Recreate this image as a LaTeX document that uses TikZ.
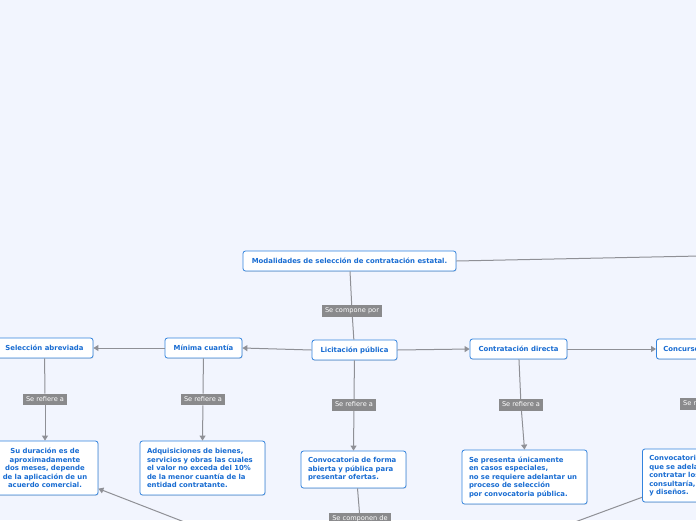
\documentclass[tikz,border=0pt]{standalone}
\usepackage{fontspec}
\setmainfont{DejaVu Sans}
\usetikzlibrary{arrows.meta,shadows}
\definecolor{bgc}{RGB}{242,245,254}
\definecolor{bblue}{RGB}{52,132,222}
\definecolor{tblue}{RGB}{24,108,210}
\definecolor{lgray}{RGB}{138,138,140}
\definecolor{cgray}{RGB}{143,144,150}
\tikzset{
  topic/.style={draw=bblue, line width=0.8pt, rounded corners=2.5pt, fill=white, text=tblue,
    font=\bfseries\fontsize{6.9}{8.5}\selectfont, inner xsep=7pt, inner ysep=4pt, minimum height=20pt,
    drop shadow={shadow xshift=0.6pt, shadow yshift=-0.8pt, fill=black!20, opacity=0.6}},
  multi/.style={topic, align=left},
  lbl/.style={fill=lgray, text=white, font=\fontsize{6.6}{7}\selectfont, inner xsep=3pt, inner ysep=0pt,
    minimum height=11.5pt, text height=5pt, text depth=1.3pt},
  conn/.style={draw=cgray, line width=1pt},
  arr/.style={conn, -{Triangle[width=6pt,length=5pt]}}
}
\begin{document}
\begin{tikzpicture}[x=1pt,y=-1pt]
\fill[bgc] (0,0) rectangle (696,520);
\useasboundingbox (0,0) rectangle (696,520);
\clip (0,0) rectangle (696,520);
% topics
\node[topic, minimum width=213pt] (mod) at (349.5,261) {Modalidades de selección de contratación estatal.};
\node[topic, minimum width=85pt] (lic) at (354.5,350) {Licitación pública};
\node[topic, minimum width=77pt] (min) at (203.5,348) {Mínima cuantía};
\node[topic, minimum width=97pt] (sel) at (44.5,348) {Selección abreviada};
\node[topic, minimum width=97pt] (dir) at (518.5,349) {Contratación directa};
\node[topic, anchor=west] (con) at (656,349) {Concurso de méritos};
% multi-line topics
\node[topic, align=center, text width=92pt, minimum height=54pt] (dur) at (45,468)
  {Su duración es de\\aproximadamente\\dos meses, depende\\de la aplicación de un\\acuerdo comercial.};
\node[multi, text width=111pt, minimum height=54pt] (adq) at (202.5,468)
  {Adquisiciones de bienes,\\servicios y obras las cuales\\el valor no exceda del 10\%\\de la menor cuantía de la\\entidad contratante.};
\node[multi, text width=91pt, minimum height=37pt] (conv) at (353.5,469.5)
  {Convocatoria de forma\\abierta y pública para\\presentar ofertas.};
\node[multi, text width=111pt, minimum height=54pt] (pres) at (524.5,477)
  {Se presenta únicamente\\en casos especiales,\\no se requiere adelantar un\\proceso de selección\\por convocatoria pública.};
\node[multi, anchor=west, text width=104pt, minimum height=53pt] (conc) at (642,475.5)
  {Convocatoria pública\\que se adelanta para\\contratar los servicios de\\consultaría, estudios\\y diseños.};
% labels
\node[lbl] (l1) at (352,311) {Se compone por};
\node[lbl] (l2) at (45,399.5) {Se refiere a};
\node[lbl] (l3) at (203,399.5) {Se refiere a};
\node[lbl] (l4) at (354,405) {Se refiere a};
\node[lbl] (l5) at (521,405) {Se refiere a};
\node[lbl, anchor=west] (l6) at (680,404) {Se refiere a};
\node[lbl] (l7) at (360,519) {Se componen de};
% free ends
\coordinate (c1) at (205,530);
\coordinate (c2) at (556,529);
\coordinate (c3) at (700,256);
\coordinate (c4) at (361,540);
% connectors
\draw[conn] (mod.east) -- (c3);
\draw[conn] (mod) -- (l1);
\draw[conn] (l1) -- (lic);
\draw[arr] (lic.west) -- (min.east);
\draw[arr] (min.west) -- (sel.east);
\draw[arr] (lic.east) -- (dir.west);
\draw[arr] (dir.east) -- (con.west);
\draw[conn] (sel) -- (l2);
\draw[arr] (l2) -- (dur.north);
\draw[conn] (min) -- (l3);
\draw[arr] (l3) -- (adq.north);
\draw[conn] (lic) -- (l4);
\draw[arr] (l4) -- (conv.north);
\draw[conn] (dir) -- (l5);
\draw[arr] (l5) -- (pres.north);
\draw[conn] (con) -- (l6);
\draw[arr] (l6) -- (conc);
\draw[conn] ([xshift=4pt]conv.south) -- (l7);
\draw[conn] (l7) -- (c4);
\draw[arr] (c1) -- (dur);
\draw[conn] (c2) -- (conc);
\end{tikzpicture}
\end{document}
